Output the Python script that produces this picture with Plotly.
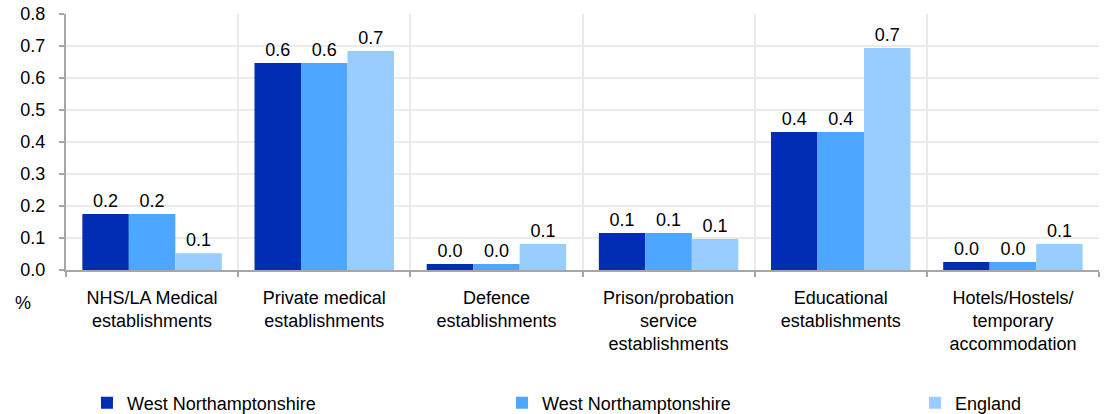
import plotly.graph_objects as go

categories = [
    "NHS/LA Medical<br>establishments",
    "Private medical<br>establishments",
    "Defence<br>establishments",
    "Prison/probation<br>service<br>establishments",
    "Educational<br>establishments",
    "Hotels/Hostels/<br>temporary<br>accommodation",
]

series_names = ["West Northamptonshire", "West Northamptonshire", "England"]
west_north_a = [0.175, 0.647, 0.019, 0.116, 0.431, 0.025]
west_north_b = [0.175, 0.647, 0.019, 0.116, 0.431, 0.025]
england = [0.052, 0.684, 0.081, 0.097, 0.694, 0.081]

colors = ["#002db3", "#4da6ff", "#99ccff"]
legend_ids = ["legend", "legend2", "legend3"]
legend_x = [0.0203, 0.4221, 0.8219]
font_family = "Liberation Sans, Arial, sans-serif"

fig = go.Figure()
for name, vals, col, lg in zip(series_names, [west_north_a, west_north_b, england], colors, legend_ids):
    fig.add_trace(
        go.Bar(
            x=categories,
            y=vals,
            name=name,
            legend=lg,
            marker=dict(color=col, line=dict(width=0)),
            texttemplate="%{y:.1f}",
            textposition="outside",
            textfont=dict(size=18, color="black", family=font_family),
            cliponaxis=False,
        )
    )

# one legend box per series so the entries spread across the bottom
legend_style = {}
for lg, lx in zip(legend_ids, legend_x):
    legend_style[lg] = dict(
        orientation="h",
        x=lx,
        xanchor="left",
        y=-0.52,
        yanchor="middle",
        font=dict(size=18),
        bgcolor="rgba(0,0,0,0)",
    )

fig.update_layout(
    width=1104,
    height=414,
    margin=dict(l=66, r=5, t=14, b=144, autoexpand=False),
    paper_bgcolor="white",
    plot_bgcolor="white",
    font=dict(family=font_family, size=18, color="black"),
    barmode="group",
    bargap=0.19,
    bargroupgap=0,
    showlegend=True,
    annotations=[
        dict(
            text="%",
            xref="paper",
            yref="paper",
            x=-0.0416,
            y=-0.129,
            xanchor="center",
            yanchor="middle",
            showarrow=False,
            font=dict(size=18),
        )
    ],
    **legend_style,
)

fig.update_xaxes(
    automargin=False,
    tickson="boundaries",
    showgrid=True,
    gridcolor="#ebebeb",
    gridwidth=1.5,
    showline=True,
    linecolor="#a6a6a6",
    linewidth=2,
    ticks="outside",
    ticklen=5,
    tickcolor="#a6a6a6",
    tickwidth=2,
    ticklabelstandoff=10,
)
fig.update_yaxes(
    automargin=False,
    range=[0, 0.8],
    dtick=0.1,
    tickformat=".1f",
    showgrid=True,
    gridcolor="#ebebeb",
    gridwidth=1.5,
    zeroline=False,
    showline=True,
    linecolor="#a6a6a6",
    linewidth=2,
    ticks="outside",
    ticklen=5,
    tickcolor="#a6a6a6",
    tickwidth=2,
    ticklabelstandoff=10,
    ticklabeloverflow="allow",
)

# drop the default body margin so the figure fills the window exactly
fig.write_html(
    "out.html",
    config={"displayModeBar": False},
    post_script="document.body.style.margin='0';",
)
